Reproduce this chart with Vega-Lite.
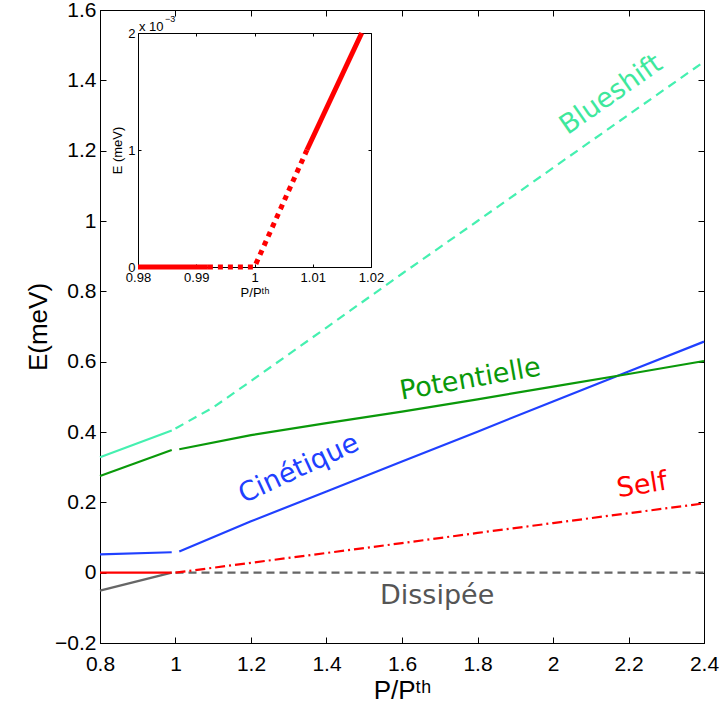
{
  "$schema": "https://vega.github.io/schema/vega-lite/v6.json",
  "width": 604,
  "height": 633,
  "autosize": "none",
  "padding": {"left": 100, "top": 10, "right": 16, "bottom": 70},
  "background": "white",
  "config": {
    "view": {"stroke": "#000000", "strokeWidth": 1},
    "font": "Liberation Sans",
    "axis": {
      "grid": false,
      "labelFlush": false,
      "labelOverlap": false,
      "domainColor": "#000000",
      "tickColor": "#000000",
      "labelColor": "#000000",
      "titleColor": "#000000",
      "labelFont": "Liberation Sans",
      "titleFont": "Liberation Sans",
      "titleFontWeight": "normal",
      "domainWidth": 1,
      "tickWidth": 1
    }
  },
  "datasets": {
    "courbes": [
      {"serie": "Blueshift", "regime": "sous", "P": 0.8, "E": 0.328},
      {"serie": "Blueshift", "regime": "sous", "P": 0.99, "E": 0.404},
      {"serie": "Blueshift", "regime": "sur", "P": 1.0, "E": 0.41},
      {"serie": "Blueshift", "regime": "sur", "P": 1.1, "E": 0.47},
      {"serie": "Blueshift", "regime": "sur", "P": 1.2, "E": 0.545},
      {"serie": "Blueshift", "regime": "sur", "P": 1.4, "E": 0.697},
      {"serie": "Blueshift", "regime": "sur", "P": 1.6, "E": 0.85},
      {"serie": "Blueshift", "regime": "sur", "P": 1.8, "E": 1.0},
      {"serie": "Blueshift", "regime": "sur", "P": 2.0, "E": 1.151},
      {"serie": "Blueshift", "regime": "sur", "P": 2.2, "E": 1.302},
      {"serie": "Blueshift", "regime": "sur", "P": 2.4, "E": 1.453},
      {"serie": "Potentielle", "regime": "sous", "P": 0.8, "E": 0.275},
      {"serie": "Potentielle", "regime": "sous", "P": 0.99, "E": 0.349},
      {"serie": "Potentielle", "regime": "sur", "P": 1.01, "E": 0.351},
      {"serie": "Potentielle", "regime": "sur", "P": 1.2, "E": 0.391},
      {"serie": "Potentielle", "regime": "sur", "P": 1.4, "E": 0.425},
      {"serie": "Potentielle", "regime": "sur", "P": 1.6, "E": 0.458},
      {"serie": "Potentielle", "regime": "sur", "P": 1.8, "E": 0.493},
      {"serie": "Potentielle", "regime": "sur", "P": 2.0, "E": 0.529},
      {"serie": "Potentielle", "regime": "sur", "P": 2.2, "E": 0.565},
      {"serie": "Potentielle", "regime": "sur", "P": 2.4, "E": 0.602},
      {"serie": "Cinetique", "regime": "sous", "P": 0.8, "E": 0.052},
      {"serie": "Cinetique", "regime": "sous", "P": 0.99, "E": 0.058},
      {"serie": "Cinetique", "regime": "sur", "P": 1.01, "E": 0.06},
      {"serie": "Cinetique", "regime": "sur", "P": 1.2, "E": 0.146},
      {"serie": "Cinetique", "regime": "sur", "P": 1.4, "E": 0.231},
      {"serie": "Cinetique", "regime": "sur", "P": 1.6, "E": 0.316},
      {"serie": "Cinetique", "regime": "sur", "P": 1.8, "E": 0.401},
      {"serie": "Cinetique", "regime": "sur", "P": 2.0, "E": 0.487},
      {"serie": "Cinetique", "regime": "sur", "P": 2.2, "E": 0.572},
      {"serie": "Cinetique", "regime": "sur", "P": 2.4, "E": 0.657},
      {"serie": "Self", "regime": "sous", "P": 0.8, "E": 0.0},
      {"serie": "Self", "regime": "sous", "P": 0.99, "E": 0.0},
      {"serie": "Self", "regime": "sur", "P": 1.0, "E": 0.0},
      {"serie": "Self", "regime": "sur", "P": 1.2, "E": 0.028},
      {"serie": "Self", "regime": "sur", "P": 1.4, "E": 0.056},
      {"serie": "Self", "regime": "sur", "P": 1.6, "E": 0.084},
      {"serie": "Self", "regime": "sur", "P": 1.8, "E": 0.113},
      {"serie": "Self", "regime": "sur", "P": 2.0, "E": 0.141},
      {"serie": "Self", "regime": "sur", "P": 2.2, "E": 0.169},
      {"serie": "Self", "regime": "sur", "P": 2.4, "E": 0.197},
      {"serie": "Dissipee", "regime": "sous", "P": 0.8, "E": -0.051},
      {"serie": "Dissipee", "regime": "sous", "P": 0.99, "E": 0.0},
      {"serie": "Dissipee", "regime": "sur", "P": 1.0, "E": 0.0},
      {"serie": "Dissipee", "regime": "sur", "P": 1.7, "E": 0.0},
      {"serie": "Dissipee", "regime": "sur", "P": 2.4, "E": 0.0}
    ],
    "encart": [
      {"segment": "plein1", "P": 0.98, "E": 0.0},
      {"segment": "plein1", "P": 0.992, "E": 0.0},
      {"segment": "tirets", "P": 0.992, "E": 0.0},
      {"segment": "tirets", "P": 1.0, "E": 0.0},
      {"segment": "tirets", "P": 1.009, "E": 1.0},
      {"segment": "plein2", "P": 1.009, "E": 1.0},
      {"segment": "plein2", "P": 1.0184, "E": 2.0}
    ]
  },
  "layer": [
    {
      "data": {"name": "courbes"},
      "encoding": {
        "x": {
          "field": "P", "type": "quantitative",
          "scale": {"domain": [0.8, 2.4], "nice": false, "zero": false},
          "axis": {
            "orient": "bottom",
            "values": [0.8, 1, 1.2, 1.4, 1.6, 1.8, 2, 2.2, 2.4],
            "format": "~g",
            "tickSize": -6,
            "labelFontSize": 21,
            "labelPadding": 16,
            "title": "P/Pᵗʰ",
            "titleFontSize": 26,
            "titlePadding": 3
          }
        },
        "y": {
          "field": "E", "type": "quantitative",
          "scale": {"domain": [-0.2, 1.6], "nice": false, "zero": false},
          "axis": {
            "orient": "left",
            "values": [-0.2, 0, 0.2, 0.4, 0.6, 0.8, 1, 1.2, 1.4, 1.6],
            "format": "~g",
            "tickSize": -6,
            "labelFontSize": 21,
            "labelPadding": 10,
            "title": "E(meV)",
            "titleFontSize": 26,
            "titlePadding": 3
          }
        }
      },
      "layer": [
        {"transform": [{"filter": "datum.serie == 'Dissipee' && datum.regime == 'sous'"}],
         "mark": {"type": "line", "color": "#666666", "strokeWidth": 2.2}},
        {"transform": [{"filter": "datum.serie == 'Dissipee' && datum.regime == 'sur'"}],
         "mark": {"type": "line", "color": "#666666", "strokeWidth": 2.2, "strokeDash": [8, 5], "strokeCap": "butt"}},
        {"transform": [{"filter": "datum.serie == 'Self' && datum.regime == 'sous'"}],
         "mark": {"type": "line", "color": "#ff0000", "strokeWidth": 2.2}},
        {"transform": [{"filter": "datum.serie == 'Self' && datum.regime == 'sur'"}],
         "mark": {"type": "line", "color": "#ff0000", "strokeWidth": 2.2, "strokeDash": [10, 4, 2, 4], "strokeCap": "butt"}},
        {"transform": [{"filter": "datum.serie == 'Cinetique'"}],
         "mark": {"type": "line", "color": "#2040ff", "strokeWidth": 2.2},
         "encoding": {"detail": {"field": "regime"}}},
        {"transform": [{"filter": "datum.serie == 'Potentielle'"}],
         "mark": {"type": "line", "color": "#0a990a", "strokeWidth": 2.2},
         "encoding": {"detail": {"field": "regime"}}},
        {"transform": [{"filter": "datum.serie == 'Blueshift' && datum.regime == 'sous'"}],
         "mark": {"type": "line", "color": "#45f0b0", "strokeWidth": 2.2}},
        {"transform": [{"filter": "datum.serie == 'Blueshift' && datum.regime == 'sur'"}],
         "mark": {"type": "line", "color": "#45f0b0", "strokeWidth": 2.2, "strokeDash": [9, 6], "strokeCap": "butt"}},
        {"data": {"values": [{"nom": "Blueshift", "P": 2.154, "E": 1.359}]},
         "mark": {"type": "text", "font": "DejaVu Sans", "fontSize": 27, "color": "#3ee89c", "angle": -35, "align": "center", "baseline": "middle"},
         "encoding": {"text": {"field": "nom"}}},
        {"data": {"values": [{"nom": "Potentielle", "P": 1.781, "E": 0.549}]},
         "mark": {"type": "text", "font": "DejaVu Sans", "fontSize": 27, "color": "#0a990a", "angle": -10, "align": "center", "baseline": "middle"},
         "encoding": {"text": {"field": "nom"}}},
        {"data": {"values": [{"nom": "Cinétique", "P": 1.327, "E": 0.295}]},
         "mark": {"type": "text", "font": "DejaVu Sans", "fontSize": 27, "color": "#2040ff", "angle": -25, "align": "center", "baseline": "middle"},
         "encoding": {"text": {"field": "nom"}}},
        {"data": {"values": [{"nom": "Self", "P": 2.236, "E": 0.248}]},
         "mark": {"type": "text", "font": "DejaVu Sans", "fontSize": 27, "color": "#ff0000", "angle": -9, "align": "center", "baseline": "middle"},
         "encoding": {"text": {"field": "nom"}}},
        {"data": {"values": [{"nom": "Dissipée", "P": 1.693, "E": -0.067}]},
         "mark": {"type": "text", "font": "DejaVu Sans", "fontSize": 27, "color": "#555555", "align": "center", "baseline": "middle"},
         "encoding": {"text": {"field": "nom"}}}
      ]
    },
    {
      "data": {"values": [{"P": 0.8, "E": 0}]},
      "mark": {"type": "point", "opacity": 0},
      "encoding": {
        "x": {
          "field": "P", "type": "quantitative",
          "scale": {"domain": [0.8, 2.4], "nice": false, "zero": false},
          "axis": {"orient": "top", "values": [0.8, 1, 1.2, 1.4, 1.6, 1.8, 2, 2.2, 2.4], "tickSize": -6, "labels": false, "title": null}
        },
        "y": {
          "field": "E", "type": "quantitative",
          "scale": {"domain": [-0.2, 1.6], "nice": false, "zero": false},
          "axis": {"orient": "right", "values": [-0.2, 0, 0.2, 0.4, 0.6, 0.8, 1, 1.2, 1.4, 1.6], "tickSize": -6, "labels": false, "title": null}
        }
      }
    },
    {
      "data": {"name": "encart"},
      "encoding": {
        "x": {
          "field": "P", "type": "quantitative",
          "scale": {"domain": [0.98, 1.02], "range": [38, 271], "nice": false, "zero": false},
          "axis": {
            "orient": "bottom", "offset": -376,
            "values": [0.98, 0.99, 1, 1.01, 1.02],
            "format": "~g",
            "tickSize": -3,
            "labelFontSize": 13,
            "labelPadding": 7,
            "title": "P/Pᵗʰ",
            "titleFontSize": 13,
            "titlePadding": 2
          }
        },
        "y": {
          "field": "E", "type": "quantitative",
          "scale": {"domain": [0, 2], "range": [257, 23], "nice": false, "zero": false},
          "axis": {
            "orient": "left", "offset": -38,
            "values": [0, 1, 2],
            "format": "~g",
            "tickSize": -3,
            "labelFontSize": 13,
            "labelPadding": 6,
            "title": "E (meV)",
            "titleFontSize": 13,
            "titlePadding": 3
          }
        }
      },
      "layer": [
        {"transform": [{"filter": "datum.segment == 'plein1'"}],
         "mark": {"type": "line", "color": "#ff0000", "strokeWidth": 5, "strokeCap": "butt"}},
        {"transform": [{"filter": "datum.segment == 'tirets'"}],
         "mark": {"type": "line", "color": "#ff0000", "strokeWidth": 5, "strokeDash": [5, 5], "strokeCap": "butt"}},
        {"transform": [{"filter": "datum.segment == 'plein2'"}],
         "mark": {"type": "line", "color": "#ff0000", "strokeWidth": 5, "strokeCap": "butt"}},
        {"data": {"values": [{"t": "x 10", "P": 0.98, "E": 2}]},
         "mark": {"type": "text", "fontSize": 13, "color": "#000000", "align": "left", "baseline": "alphabetic", "dx": 1, "dy": -2},
         "encoding": {"text": {"field": "t"}}},
        {"data": {"values": [{"t": "−3", "P": 0.98, "E": 2}]},
         "mark": {"type": "text", "fontSize": 9, "color": "#000000", "align": "left", "baseline": "alphabetic", "dx": 27, "dy": -11},
         "encoding": {"text": {"field": "t"}}}
      ]
    },
    {
      "data": {"values": [{"P": 0.98, "E": 0}]},
      "mark": {"type": "point", "opacity": 0},
      "encoding": {
        "x": {
          "field": "P", "type": "quantitative",
          "scale": {"domain": [0.98, 1.02], "range": [38, 271], "nice": false, "zero": false},
          "axis": {"orient": "top", "offset": -23, "values": [0.98, 0.99, 1, 1.01, 1.02], "tickSize": -3, "labels": false, "title": null}
        },
        "y": {
          "field": "E", "type": "quantitative",
          "scale": {"domain": [0, 2], "range": [257, 23], "nice": false, "zero": false},
          "axis": {"orient": "right", "offset": -333, "values": [0, 1, 2], "tickSize": -3, "labels": false, "title": null}
        }
      }
    }
  ],
  "resolve": {"scale": {"x": "independent", "y": "independent"}}
}
